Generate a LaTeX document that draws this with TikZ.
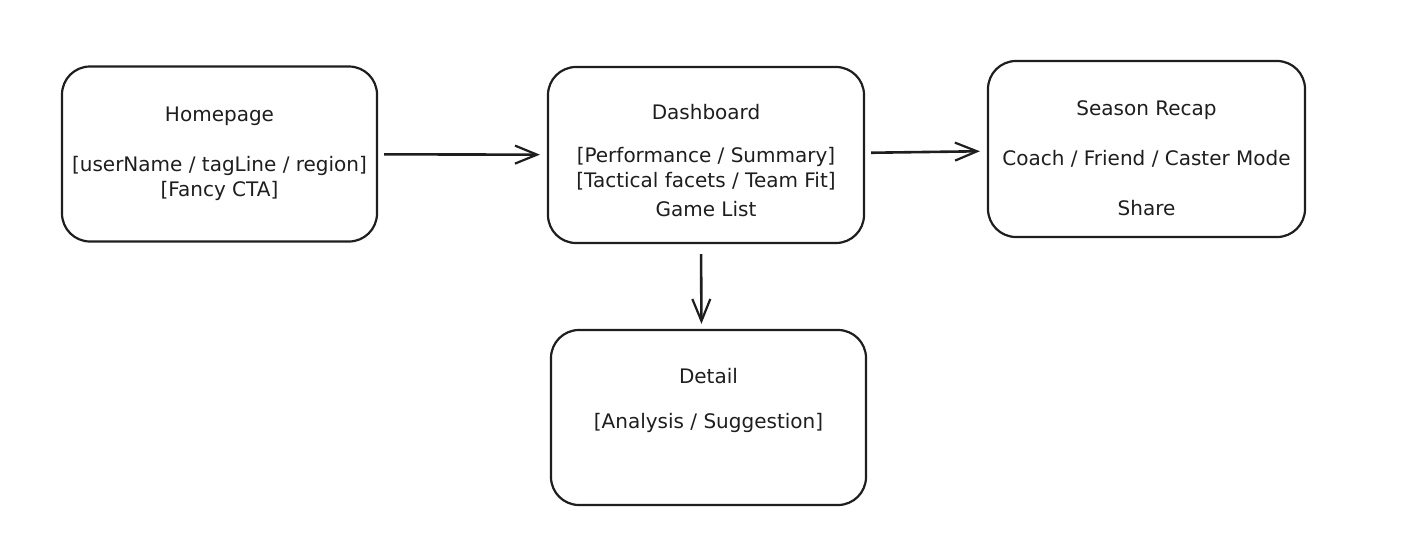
\documentclass[tikz,border=0pt]{standalone}
\usepackage{fontspec}
\usepackage{xcolor}
\usepackage{tikz}
\usetikzlibrary{arrows.meta,positioning}
\newfontfamily\sketchfont{DejaVu Sans}
\definecolor{ink}{HTML}{1E1E1E}
\tikzset{
  screen/.style={draw=ink, line width=2.2pt, rounded corners=28pt, align=center, fill=white, inner sep=2pt, minimum width=315pt, minimum height=175pt, text=ink},
  flow/.style={-{Straight Barb[length=22pt, width=18pt, line width=2.2pt]}, line width=2.6pt, draw=ink, shorten <=6pt, shorten >=7pt}
}

\begin{document}
\begin{tikzpicture}[x=1pt, y=-1pt, font=\sketchfont\fontsize{20}{25}\selectfont]
  \useasboundingbox (0,0) rectangle (1425,546);

  \node[screen] (home) at (219.5,154) {Homepage\\[25pt]{[}userName / tagLine / region]\\{[}Fancy CTA]};
  \node[screen, minimum width=316pt, minimum height=176pt] (dash) at (706,155) {\rule{0pt}{27pt}Dashboard\\[18pt]{[}Performance / Summary]\\{[}Tactical facets / Team Fit]\\[4pt]Game List};
  \node[screen, minimum width=317pt, minimum height=176pt] (recap) at (1146.5,149) {\rule{0pt}{34pt}Season Recap\\[25pt]Coach / Friend / Caster Mode\\[25pt]Share};
  \node[screen] (detail) at (708.5,417.5) {Detail\\[20pt]{[}Analysis / Suggestion]\\[6pt]\strut};

  \draw[flow] (home) -- (dash);
  \draw[flow] (dash) -- (recap);
  \draw[flow, shorten <=10pt, shorten >=5pt] ([xshift=-5pt]dash.south) -- ([xshift=-7pt]detail.north);
\end{tikzpicture}
\end{document}
